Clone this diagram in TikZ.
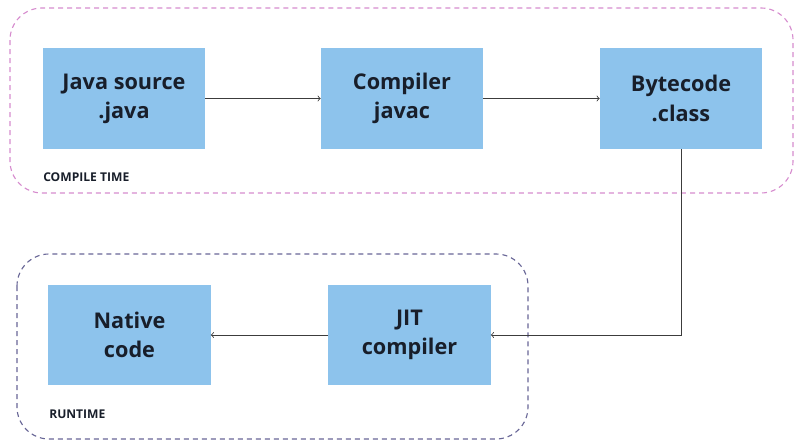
\documentclass[tikz,border=0pt]{standalone}
\usepackage{fontspec}
\setmainfont{Open Sans}
\usetikzlibrary{positioning}

\definecolor{boxblue}{RGB}{141,195,236}
\definecolor{textdark}{RGB}{24,30,42}
\definecolor{compileframe}{RGB}{214,140,206}
\definecolor{runframe}{RGB}{104,102,150}
\definecolor{arrowgray}{RGB}{60,60,60}

\tikzset{
    stage/.style={fill=boxblue, inner sep=0pt, minimum width=4.05cm, minimum height=2.52cm,
        align=center, text=textdark, font=\fontsize{15.4}{20.8}\selectfont\bfseries},
    frame/.style={dashed, dash pattern=on 0.125cm off 0.1cm, line width=0.8pt, rounded corners=0.8cm},
    framelabel/.style={anchor=west, inner sep=0pt, text=textdark, font=\fontsize{8.6}{10.5}\selectfont\bfseries},
    flow/.style={arrowgray, line width=0.6pt, ->}
}

\begin{document}
\begin{tikzpicture}[x=0.025cm, y=-0.025cm]
        \useasboundingbox (0,0) rectangle (800,445);
        % dashed frames
        \draw[frame, color=compileframe] (10,8) rectangle (793,193);
        \draw[frame, color=runframe] (17,254) rectangle (528,439);
        % compile time
        \node[stage] (java) at (124,98.5) {Java source\\.java};
        \node[stage] (javac) at (402,98.5) {Compiler\\javac};
        \node[stage] (bytecode) at (681,98.5) {Bytecode\\.class};
        \node[framelabel] (compilelabel) at (43,177) {COMPILE TIME};
        % runtime
        \node[stage] (native) at (129.5,335) {Native\\code};
        \node[stage] (jit) at (409.5,335) {JIT\\compiler};
        \node[framelabel] (runlabel) at (49,414) {RUNTIME};
        % connectors
        \draw[flow] (java) -- (javac);
        \draw[flow] (javac) -- (bytecode);
        \draw[flow] (bytecode) |- (jit);
        \draw[flow] (jit) -- (native);
    \end{tikzpicture}
\end{document}
